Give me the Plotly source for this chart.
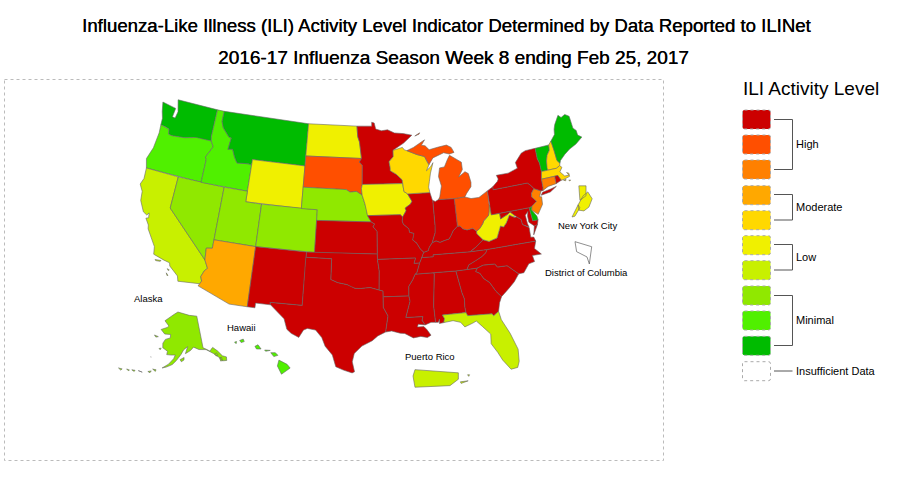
import numpy as np
import plotly.graph_objects as go

TITLE_1 = "Influenza-Like Illness (ILI) Activity Level Indicator Determined by Data Reported to ILINet"
TITLE_2 = "2016-17 Influenza Season Week 8 ending Feb 25, 2017"
LEGEND_TITLE = "ILI Activity Level"
LEVEL_COLORS = ["#CC0000", "#FF4F00", "#FF8000", "#FFA800", "#FFD800",
                "#F0F000", "#C8F000", "#90E800", "#50F000", "#00BB00", "#FFFFFF"]
LEGEND_GROUPS = ["High", "Moderate", "Low", "Minimal", "Insufficient Data"]

# activity level (index into LEVEL_COLORS) per jurisdiction
LEVELS = {
 "WA":9,"OR":8,"CA":6,"NV":7,"ID":8,"MT":9,"WY":5,"UT":7,"CO":7,"AZ":3,"NM":0,"ND":5,"SD":1,"NE":7,
 "KS":0,"OK":0,"TX":0,"MN":0,"IA":5,"MO":0,"AR":0,"LA":0,"WI":4,"IL":0,"MI":1,"IN":0,"OH":1,"KY":0,
 "TN":0,"MS":0,"AL":0,"GA":0,"FL":6,"SC":0,"NC":0,"VA":0,"WV":5,"MD":0,"DE":9,"PA":0,"NJ":2,"NY":0,
 "CT":2,"RI":0,"MA":4,"VT":9,"NH":4,"ME":9,"AK":7,"HI":8,"PR":6,"NYC":5,"DC":10,
}

# state outlines, (lon, lat)
OHIO_OH = [(-80.52,40.64),(-80.6,40.6),(-80.72,40.07),(-80.87,39.7),(-81.55,39.27),(-81.75,39.0),(-82.2,38.6),(-82.6,38.42),
           (-83.0,38.73),(-83.7,38.65),(-84.2,38.8),(-84.5,39.1),(-84.82,39.1)]
OHIO_IN = [(-84.82,39.1),(-85.4,38.73),(-85.75,38.27),(-86.0,38.0),(-86.5,37.93),(-87.1,37.78),(-87.57,37.95),(-88.06,37.8)]
OHIO_IL = [(-88.06,37.8),(-88.45,37.4),(-88.6,37.1),(-89.13,36.98)]

OUTLINES = {
"WA":[[(-124.7,48.38),(-123.2,48.15),(-122.75,48.15),(-122.85,47.3),(-122.45,47.25),(-122.3,47.9),(-122.5,48.4),(-122.75,49.0),(-117.03,49.0),(-117.04,46.42),(-116.92,45.99),(-118.98,46.0),(-119.3,45.93),(-120.5,45.7),(-121.2,45.65),(-122.2,45.57),(-122.7,45.62),(-122.85,46.1),(-123.4,46.2),(-124.05,46.27),(-124.1,46.9),(-124.4,47.5)]],
"OR":[[(-124.05,46.27),(-123.4,46.2),(-122.85,46.1),(-122.7,45.62),(-122.2,45.57),(-121.2,45.65),(-120.5,45.7),(-119.3,45.93),(-118.98,46.0),(-116.92,45.99),(-116.5,45.5),(-116.85,44.95),(-117.22,44.4),(-117.03,44.2),(-117.03,42.0),(-124.2,42.0),(-124.55,42.84),(-124.1,44.0),(-123.95,45.5)]],
"CA":[[(-124.2,42.0),(-120.0,42.0),(-120.0,39.0),(-114.63,35.0),(-114.15,34.27),(-114.45,34.0),(-114.72,33.4),(-114.52,33.0),(-114.72,32.72),(-117.12,32.53),(-117.3,33.0),(-118.4,33.75),(-118.5,34.03),(-119.2,34.15),(-120.5,34.45),(-120.65,35.15),(-121.9,36.6),(-122.0,36.95),(-122.5,37.5),(-122.2,37.6),(-122.3,38.05),(-122.5,37.8),(-123.0,38.0),(-123.7,38.95),(-123.85,39.8),(-124.35,40.4),(-124.1,41.0)],
      [(-120.2,34.0),(-119.5,34.05),(-119.6,33.95),(-120.1,33.92)],[(-118.6,33.45),(-118.35,33.38),(-118.45,33.3)],[(-118.6,33.05),(-118.35,32.85),(-118.45,32.82)]],
"NV":[[(-120,42),(-114.04,42),(-114.04,36.2),(-114.74,36.1),(-114.63,35.0),(-120,39)]],
"ID":[[(-117.03,49),(-116.05,49),(-116.05,48.0),(-115.7,47.45),(-114.7,46.7),(-114.35,46.65),(-114.5,45.55),(-113.9,45.65),(-113.45,44.95),(-113.0,44.45),(-111.5,44.55),(-111.05,44.48),(-111.05,42),(-117.03,42),(-117.03,44.2),(-117.22,44.4),(-116.85,44.95),(-116.5,45.5),(-116.92,45.99),(-117.04,46.42)]],
"MT":[[(-116.05,49),(-104.05,49),(-104.05,45),(-111.05,45),(-111.05,44.48),(-111.5,44.55),(-113.0,44.45),(-113.45,44.95),(-113.9,45.65),(-114.5,45.55),(-114.35,46.65),(-114.7,46.7),(-115.7,47.45),(-116.05,48.0)]],
"WY":[[(-111.05,45),(-104.05,45),(-104.05,41),(-111.05,41)]],
"UT":[[(-114.04,42),(-111.05,42),(-111.05,41),(-109.05,41),(-109.05,37),(-114.04,37)]],
"CO":[[(-109.05,41),(-102.05,41),(-102.05,37),(-109.05,37)]],
"AZ":[[(-114.04,37),(-109.05,37),(-109.05,31.33),(-111.07,31.33),(-114.81,32.5),(-114.72,32.72),(-114.52,33.0),(-114.72,33.4),(-114.45,34.0),(-114.15,34.27),(-114.63,35.0),(-114.74,36.1),(-114.04,36.2)]],
"NM":[[(-109.05,37),(-103,37),(-103.04,32),(-106.62,32),(-106.53,31.78),(-108.2,31.78),(-108.2,31.33),(-109.05,31.33)]],
"ND":[[(-104.05,49),(-97.23,49),(-97.1,48.0),(-96.85,47.5),(-96.56,45.94),(-104.05,45.94)]],
"SD":[[(-104.05,45.94),(-96.56,45.94),(-96.85,45.6),(-96.45,45.3),(-96.45,43.5),(-96.55,43.1),(-96.45,42.5),(-97.2,42.85),(-98.0,42.77),(-98.5,43.0),(-104.05,43)]],
"NE":[[(-104.05,43),(-98.5,43),(-98.0,42.77),(-97.2,42.85),(-96.45,42.5),(-96.1,41.7),(-95.9,41.2),(-95.77,40.59),(-95.31,40.0),(-102.05,40),(-102.05,41),(-104.05,41)]],
"KS":[[(-102.05,40),(-95.31,40),(-94.9,39.8),(-95.1,39.55),(-94.61,39.11),(-94.62,37),(-102.05,37)]],
"OK":[[(-103,37),(-94.62,37),(-94.62,36.5),(-94.43,35.4),(-94.48,33.64),(-95.5,33.88),(-96.5,33.8),(-97.2,33.8),(-97.7,33.95),(-98.1,34.13),(-99.2,34.3),(-100,34.56),(-100,36.5),(-103,36.5)]],
"TX":[[(-106.62,32),(-103.04,32),(-103.04,36.5),(-100,36.5),(-100,34.56),(-99.2,34.3),(-98.1,34.13),(-97.7,33.95),(-97.2,33.8),(-96.5,33.8),(-95.5,33.88),(-94.48,33.64),(-94.04,33.55),(-94.04,33.0),(-94.04,32),(-93.55,31.2),(-93.7,30.6),(-93.85,29.7),(-94.7,29.35),(-95.3,28.9),(-96.4,28.4),(-97.2,27.7),(-97.4,26.9),(-97.15,25.96),(-97.4,25.85),(-98.3,26.1),(-99.1,26.4),(-99.5,27.5),(-100.3,28.3),(-100.7,29.1),(-101.4,29.77),(-102.3,29.88),(-102.7,29.7),(-103.15,28.98),(-104.0,29.3),(-104.5,29.65),(-104.9,30.6),(-106.0,31.4),(-106.53,31.78)]],
"MN":[[(-97.23,49),(-95.15,49),(-95.15,49.38),(-94.8,49.3),(-94.6,48.72),(-93.8,48.55),(-92.95,48.62),(-92.0,48.3),(-90.8,48.2),(-89.6,48.0),(-90.8,47.3),(-92.02,46.71),(-92.29,46.66),(-92.29,46.07),(-92.88,45.6),(-92.75,45.0),(-92.75,44.75),(-92.0,44.4),(-91.25,43.85),(-91.22,43.5),(-96.45,43.5),(-96.45,45.3),(-96.85,45.6),(-96.56,45.94),(-96.85,47.5),(-97.1,48.0)]],
"IA":[[(-96.45,43.5),(-91.22,43.5),(-91.1,42.75),(-90.64,42.51),(-90.15,41.8),(-90.35,41.55),(-91.05,41.2),(-90.95,40.95),(-91.42,40.38),(-91.7,40.6),(-95.77,40.59),(-95.9,41.2),(-96.1,41.7),(-96.45,42.5),(-96.55,43.1)]],
"MO":[[(-95.77,40.59),(-91.7,40.6),(-91.42,40.38),(-91.5,40.0),(-91.37,39.7),(-90.73,39.25),(-90.67,38.92),(-90.15,38.8),(-90.18,38.6),(-90.35,38.2),(-89.9,37.88),(-89.5,37.3),(-89.13,36.98),(-89.4,36.5),(-89.7,36.0),(-90.37,36.0),(-90.15,36.5),(-94.62,36.5),(-94.62,37),(-94.61,39.11),(-95.1,39.55),(-94.9,39.8),(-95.31,40)]],
"AR":[[(-94.62,36.5),(-90.15,36.5),(-90.37,36.0),(-89.7,36.0),(-89.9,35.55),(-90.1,35.1),(-90.3,35.0),(-90.6,34.5),(-91.1,33.9),(-91.15,33.0),(-94.04,33.0),(-94.04,33.55),(-94.48,33.64),(-94.43,35.4)]],
"LA":[[(-94.04,33),(-91.15,33),(-91.05,32.5),(-91.6,31.0),(-89.73,31.0),(-89.85,30.65),(-89.55,30.2),(-90.3,30.3),(-90.4,30.05),(-89.7,30.05),(-89.4,29.75),(-89.0,29.2),(-89.4,29.0),(-90.1,29.15),(-90.9,29.05),(-91.8,29.5),(-92.3,29.55),(-93.2,29.78),(-93.85,29.7),(-93.7,30.6),(-93.55,31.2),(-94.04,32)]],
"MS":[[(-90.3,35),(-88.2,35),(-88.1,34.9),(-88.47,31.9),(-88.4,30.37),(-88.9,30.4),(-89.55,30.2),(-89.85,30.65),(-89.73,31.0),(-91.6,31.0),(-91.05,32.5),(-91.15,33.0),(-91.1,33.9),(-90.6,34.5)]],
"AL":[[(-88.2,35),(-85.6,34.98),(-85.18,32.87),(-85.0,32.3),(-85.05,31.54),(-85.0,31.0),(-87.6,31.0),(-87.4,30.65),(-87.52,30.28),(-88.0,30.23),(-87.95,30.65),(-88.1,30.35),(-88.4,30.37),(-88.47,31.9),(-88.1,34.9)]],
"GA":[[(-85.6,34.98),(-83.11,35.0),(-83.35,34.7),(-82.9,34.48),(-82.55,33.95),(-81.95,33.5),(-81.4,32.6),(-80.88,32.03),(-81.2,31.5),(-81.45,30.72),(-82.05,30.36),(-82.2,30.57),(-84.86,30.7),(-85.0,31.0),(-85.05,31.54),(-85.0,32.3),(-85.18,32.87)]],
"FL":[[(-87.6,31.0),(-85.0,31.0),(-84.86,30.7),(-82.2,30.57),(-82.05,30.36),(-81.45,30.72),(-81.3,29.9),(-80.6,28.5),(-80.05,26.9),(-80.15,25.75),(-80.4,25.2),(-81.1,25.13),(-81.8,26.1),(-82.2,26.9),(-82.75,27.8),(-82.65,28.7),(-83.4,29.5),(-84.0,30.1),(-84.4,29.95),(-85.3,29.68),(-85.7,30.15),(-86.5,30.38),(-87.52,30.28),(-87.4,30.65)]],
"SC":[[(-83.35,34.7),(-83.11,35.0),(-82.4,35.2),(-81.05,35.15),(-80.8,34.82),(-79.68,34.8),(-78.55,33.86),(-79.2,33.2),(-79.9,32.7),(-80.88,32.03),(-81.4,32.6),(-81.95,33.5),(-82.55,33.95),(-82.9,34.48)]],
"NC":[[(-84.32,34.99),(-83.11,35.0),(-82.4,35.2),(-81.05,35.15),(-80.8,34.82),(-79.68,34.8),(-78.55,33.86),(-77.95,33.87),(-77.2,34.6),(-76.5,34.7),(-76.6,35.3),(-75.55,35.25),(-76.2,35.9),(-75.87,36.55),(-81.68,36.59),(-81.9,36.3),(-82.4,36.0),(-83.2,35.7),(-84.05,35.4)]],
"TN":[[(-90.3,35),(-88.2,35),(-85.6,34.98),(-84.32,34.99),(-84.05,35.4),(-83.2,35.7),(-82.4,36.0),(-81.9,36.3),(-81.68,36.59),(-83.68,36.6),(-88.07,36.68),(-88.07,36.5),(-89.4,36.5),(-89.7,36),(-89.9,35.55),(-90.1,35.1)]],
"KY":[[(-89.4,36.5),(-88.07,36.5),(-88.07,36.68),(-83.68,36.6),(-82.95,36.95),(-81.97,37.54),(-82.6,38.17)]+OHIO_OH[7:]+OHIO_IN[1:]+OHIO_IL[1:]],
"VA":[[(-83.68,36.6),(-81.68,36.59),(-75.87,36.55),(-76.0,36.95),(-76.35,37.0),(-76.3,37.9),(-77.0,38.3),(-77.05,38.8),(-77.5,39.1),(-77.83,39.13),(-78.35,39.4),(-78.87,38.76),(-79.3,38.4),(-79.65,38.55),(-80.3,37.5),(-81.3,37.3),(-81.97,37.54),(-82.95,36.95)],
      [(-75.95,37.15),(-75.6,37.55),(-75.24,38.03),(-75.65,37.95)]],
"WV":[[(-82.6,38.42),(-82.6,38.17),(-81.97,37.54),(-81.3,37.3),(-80.3,37.5),(-79.65,38.55),(-79.3,38.4),(-78.87,38.76),(-78.35,39.4),(-77.83,39.13),(-77.75,39.32),(-78.2,39.68),(-78.5,39.52),(-79.48,39.2),(-79.48,39.72),(-80.52,39.72),(-80.52,40.64),(-80.6,40.6),(-80.72,40.07),(-80.87,39.7),(-81.55,39.27),(-81.75,39.0),(-82.2,38.6)]],
"MD":[[(-79.48,39.72),(-75.79,39.72),(-75.7,38.46),(-75.05,38.45),(-75.25,38.03),(-75.65,37.95),(-76.2,38.4),(-76.2,39.0),(-76.05,39.4),(-76.45,39.1),(-76.4,38.3),(-76.3,37.95),(-77.0,38.3),(-77.05,38.8),(-77.5,39.1),(-77.75,39.32),(-78.2,39.68),(-78.5,39.52),(-79.48,39.2)]],
"DE":[[(-75.79,39.72),(-75.42,39.8),(-75.55,39.45),(-75.1,38.8),(-75.05,38.45),(-75.7,38.46)]],
"PA":[[(-80.52,41.98),(-79.76,42.27),(-79.76,42.0),(-75.35,42.0),(-75.05,41.75),(-74.7,41.36),(-75.13,40.98),(-75.2,40.65),(-74.73,40.15),(-75.42,39.8),(-75.79,39.72),(-80.52,39.72)]],
"NJ":[[(-74.7,41.36),(-73.9,41.0),(-74.25,40.5),(-74.0,40.45),(-74.1,39.75),(-74.9,38.93),(-75.55,39.45),(-75.42,39.8),(-74.73,40.15),(-75.2,40.65),(-75.13,40.98)]],
"NY":[[(-79.76,42.27),(-79.05,42.7),(-78.9,42.9),(-79.05,43.27),(-77.5,43.27),(-76.5,43.5),(-76.2,43.55),(-76.3,44.1),(-75.3,44.85),(-74.7,45.0),(-73.35,45.0),(-73.4,44.0),(-73.25,43.55),(-73.27,42.75),(-73.5,42.05),(-73.55,41.3),(-73.65,41.0),(-73.9,41.0),(-74.7,41.36),(-75.05,41.75),(-75.35,42),(-79.76,42)],
      [(-74.0,40.6),(-73.75,40.85),(-72.6,40.97),(-71.9,41.07),(-72.8,40.7),(-73.9,40.55)]],
"VT":[[(-73.35,45),(-71.5,45),(-71.6,44.5),(-72.05,44.1),(-72.3,43.6),(-72.45,43.0),(-72.46,42.73),(-73.27,42.75),(-73.25,43.55),(-73.4,44)]],
"NH":[[(-71.5,45),(-71.08,45.3),(-71.0,44.3),(-70.98,43.4),(-70.7,43.07),(-70.82,42.87),(-71.3,42.7),(-72.46,42.73),(-72.45,43),(-72.3,43.6),(-72.05,44.1),(-71.6,44.5)]],
"ME":[[(-71.08,45.3),(-70.4,45.8),(-70.25,46.3),(-70.0,46.7),(-69.23,47.46),(-68.9,47.18),(-68.3,47.36),(-67.8,47.07),(-67.78,45.9),(-67.45,45.6),(-67.45,45.15),(-67.0,44.85),(-68.0,44.4),(-69.0,44.1),(-69.8,43.75),(-70.55,43.3),(-70.7,43.07),(-70.98,43.4),(-71.0,44.3)]],
"MA":[[(-73.5,42.05),(-73.27,42.75),(-72.46,42.73),(-71.3,42.7),(-70.82,42.87),(-70.6,42.65),(-71.0,42.3),(-70.6,41.95),(-70.55,41.8),(-70.0,41.78),(-70.2,42.07),(-69.95,41.95),(-69.97,41.65),(-70.65,41.53),(-71.12,41.5),(-71.38,42.02),(-71.8,42.02)],
      [(-70.83,41.45),(-70.5,41.47),(-70.6,41.35)],[(-70.2,41.32),(-69.97,41.3),(-70.1,41.23)]],
"RI":[[(-71.8,42.02),(-71.38,42.02),(-71.12,41.5),(-71.85,41.32)]],
"CT":[[(-73.5,42.05),(-71.8,42.02),(-71.85,41.32),(-72.9,41.25),(-73.65,41.0),(-73.55,41.3)]],
"OH":[[(-84.81,41.7),(-83.45,41.73),(-82.7,41.5),(-81.7,41.5),(-80.52,41.98)]+OHIO_OH],
"IN":[[(-87.53,41.72),(-87.2,41.62),(-86.8,41.76),(-84.81,41.7)]+OHIO_IN+[(-87.6,38.7),(-87.53,39.35)]],
"IL":[[(-90.64,42.51),(-87.8,42.49),(-87.6,41.85),(-87.53,41.72),(-87.53,39.35),(-87.6,38.7)]+OHIO_IL+[(-89.5,37.3),(-89.9,37.88),(-90.35,38.2),(-90.18,38.6),(-90.15,38.8),(-90.67,38.92),(-90.73,39.25),(-91.37,39.7),(-91.5,40),(-91.42,40.38),(-90.95,40.95),(-91.05,41.2),(-90.35,41.55),(-90.15,41.8)]],
"WI":[[(-92.02,46.71),(-91.0,46.9),(-90.75,46.65),(-90.42,46.57),(-89.1,46.14),(-88.1,45.9),(-87.8,45.35),(-87.6,45.1),(-88.0,44.55),(-87.4,44.9),(-87.05,45.25),(-87.5,44.3),(-87.75,43.5),(-87.9,43.0),(-87.8,42.49),(-90.64,42.51),(-91.1,42.75),(-91.22,43.5),(-91.25,43.85),(-92,44.4),(-92.75,44.75),(-92.75,45),(-92.88,45.6),(-92.29,46.07),(-92.29,46.66)]],
"MI":[[(-90.42,46.57),(-89.1,46.14),(-88.1,45.9),(-87.8,45.35),(-87.6,45.1),(-87.0,45.7),(-86.3,45.9),(-85.5,46.08),(-84.75,45.9),(-84.1,46.0),(-84.4,46.5),(-85.0,46.77),(-86.1,46.67),(-87.4,46.5),(-87.9,46.9),(-88.4,46.98),(-87.9,47.47),(-88.6,47.2),(-89.5,46.83)],
      [(-86.8,41.76),(-84.81,41.7),(-83.45,41.73),(-83.15,42.05),(-82.5,42.6),(-82.42,43.0),(-82.6,43.85),(-83.0,44.07),(-83.9,43.65),(-83.3,44.3),(-83.3,45.0),(-84.75,45.78),(-85.1,45.4),(-85.6,44.75),(-86.25,44.7),(-86.5,43.9),(-86.25,43.0),(-86.6,42.0)],
      [(-89.2,47.9),(-88.5,48.17),(-88.6,48.05)]],
"AK":[[(-141,69.65),(-141,60.3),(-139.5,59.75),(-137.5,58.9),(-136.5,59.4),(-135.5,59.75),(-133.5,58.4),(-131.8,56.6),(-130.0,55.9),(-130.5,54.9),(-132.5,55.2),(-133.8,56.5),(-136.0,58.0),(-137.0,58.5),(-139.5,59.6),(-143.5,60.0),(-146.5,60.9),(-148.5,60.0),(-151.5,59.2),(-150.0,61.2),(-152.5,60.3),(-154.0,59.0),(-156.5,57.2),(-158.5,56.0),(-161.5,55.1),(-163.5,54.7),(-160.5,56.0),(-158.0,57.7),(-157.2,58.8),(-159.5,58.7),(-162.0,58.7),(-161.8,59.7),(-164.8,60.5),(-165.2,61.8),(-164.0,63.0),(-161.0,63.6),(-161.0,64.6),(-165.0,64.5),(-168.0,65.6),(-164.0,66.5),(-163.0,67.0),(-166.5,68.3),(-163.0,69.7),(-160.0,70.5),(-156.7,71.3),(-152.0,70.8),(-147.0,70.2)],
      [(-154.5,57.5),(-152.3,58.1),(-152.4,57.4),(-153.8,56.9)],
      [(-166.9,60.1),(-165.7,60.3),(-166.1,59.8)],[(-171.5,63.6),(-168.8,63.4),(-170.3,63.1)],[(-170.4,57.2),(-170.1,57.2),(-170.2,57.1)],
      [(-168.0,53.9),(-166.3,53.9),(-166.5,53.4)],[(-170.0,52.9),(-168.5,53.3),(-168.9,52.7)],[(-174.5,52.4),(-172.5,52.3),(-172.8,52.1)],[(-177.5,52.0),(-176.0,52.2),(-176.2,51.8)],[(-179.9,51.7),(-178.5,51.7),(-178.9,51.4)],[(-183.5,51.0),(-181.8,51.2),(-182.2,50.7)],
      [(-134.5,58.0),(-133.8,57.3),(-134.8,57.0),(-135.5,57.7)],[(-133.5,56.3),(-132.5,56.3),(-132.5,55.3),(-133.5,55.3)]],
"HI":[[(-155.9,20.25),(-155.1,19.85),(-154.8,19.5),(-155.65,18.92),(-156.05,19.7)],[(-156.7,20.95),(-156.25,20.95),(-156.0,20.7),(-156.4,20.58)],[(-157.3,21.2),(-156.75,21.17),(-157.2,21.08)],[(-158.25,21.55),(-157.95,21.7),(-157.65,21.3),(-158.1,21.3)],[(-159.75,22.1),(-159.4,22.23),(-159.3,22.0),(-159.6,21.9)],[(-160.25,21.95),(-160.05,22.0),(-160.1,21.8)]],
"PR":[[(-67.2,18.5),(-65.65,18.4),(-65.65,18.2),(-65.95,18.0),(-67.2,17.95),(-67.27,18.3)],[(-65.58,18.12),(-65.3,18.15),(-65.55,18.07)],[(-65.32,18.34),(-65.25,18.34),(-65.28,18.29)]],
"NYC":[[(-74.26,40.5),(-74.09,40.66),(-74.04,40.62),(-74.18,40.51)],[(-74.09,40.66),(-73.95,40.78),(-73.82,40.83),(-73.70,40.74),(-73.79,40.63),(-73.93,40.58),(-74.07,40.59)],[(-74.07,40.91),(-73.87,40.91),(-73.87,40.78),(-74.04,40.72)]],
"DC":[[(-77.12,38.994),(-76.914,38.948),(-76.943,38.791),(-76.972,38.855),(-77.10,38.903)]],
}

LEGEND_TOPS = [110,135,160,185.7,210.7,235.7,260.7,286,311,336.3,361.7]


def albers(lon, lat, p1, p2, lon0, lat0):
    lon, lat = np.radians(lon), np.radians(lat)
    p1, p2, lon0, lat0 = map(np.radians, (p1, p2, lon0, lat0))
    n = (np.sin(p1) + np.sin(p2)) / 2
    c = np.cos(p1) ** 2 + 2 * n * np.sin(p1)
    rho = np.sqrt(c - 2 * n * np.sin(lat)) / n
    rho0 = np.sqrt(c - 2 * n * np.sin(lat0)) / n
    th = n * (lon - lon0)
    return rho * np.sin(th), rho0 - rho * np.cos(th)


def project(code, lon, lat):
    if code == "AK":
        x, y = albers(lon, lat, 55, 65, -154, 50)
        return 181 + 198 * x, 385.5 - 198 * y
    if code == "HI":
        return 283 + 10.2 * (lon + 155.5), 367 - 10.6 * (lat - 19.6)
    if code == "PR":
        return 413 + 28 * (lon + 67.27), 369 + 32 * (18.52 - lat)
    if code == "NYC":
        return 572 + 36 * (lon + 74.26), 217 - 76 * (lat - 40.5)
    if code == "DC":
        return 575 + 81 * (lon + 77.12), 241 + 110 * (39.0 - lat)
    x, y = albers(lon, lat, 29.5, 45.5, -96, 37.5)
    return 365.7 + 612.8 * x, 248.8 - 609 * y


fig = go.Figure()
for code, rings in OUTLINES.items():
    xs, ys = [], []
    for ring in rings:
        a = np.array(ring + ring[:1], dtype=float)
        px, py = project(code, a[:, 0], a[:, 1])
        xs += list(px) + [None]
        ys += list(py) + [None]
    is_empty = LEVELS[code] == 10
    fig.add_trace(go.Scatter(
        x=xs, y=ys, mode="lines", fill="toself",
        fillcolor=LEVEL_COLORS[LEVELS[code]],
        line=dict(color="#444444" if is_empty else "#666666", width=0.6),
        name=code, hoverinfo="name", showlegend=False))

shapes = [dict(type="rect", x0=4.5, x1=663.5, y0=79.5, y1=460.5,
               line=dict(color="#BBBBBB", width=1, dash="dot"), layer="below")]
for top, col in zip(LEGEND_TOPS, LEVEL_COLORS):
    l, r, t, b, k = 742.5, 770.5, top, top + 19, 2
    path = (f"M{l+k},{t} L{r-k},{t} Q{r},{t} {r},{t+k} L{r},{b-k} Q{r},{b} {r-k},{b} "
            f"L{l+k},{b} Q{l},{b} {l},{b-k} L{l},{t+k} Q{l},{t} {l+k},{t} Z")
    shapes.append(dict(type="path", path=path, fillcolor=col,
                       line=dict(color="#AAAAAA", width=1, dash="dot")))
for y0, y1 in [(119.5, 169.5), (194.5, 220), (244.5, 270), (295.5, 345.5)]:
    shapes.append(dict(type="path", path=f"M774,{y0} L792.5,{y0} L792.5,{y1} L774,{y1}",
                       line=dict(color="#555555", width=1)))
shapes.append(dict(type="line", x0=774, x1=792.5, y0=371, y1=371, line=dict(color="#555555", width=1)))

FONT = "Liberation Sans, Arial, sans-serif"


def label(x, y, text, size, anchor="left", shadow="none"):
    return dict(x=x, y=y, text=text, showarrow=False, xanchor=anchor, yanchor="middle",
                font=dict(family=FONT, size=size, color="#000000", shadow=shadow))


annotations = [label(446, 25, TITLE_1, 18.6, "center", "0.35px 0 0 #000"),
               label(453, 57, TITLE_2, 19, "center", "0.35px 0 0 #000"),
               label(741, 88, LEGEND_TITLE, 19)]
for y, name in zip([144, 207, 257, 320, 371], LEGEND_GROUPS):
    annotations.append(label(794, y, name, 11))
for x, y, name in [(132, 298, "Alaska"), (225, 327, "Hawaii"), (403, 356, "Puerto Rico"),
                   (556, 225, "New York City"), (543, 272, "District of Columbia")]:
    annotations.append(label(x, y, name, 9.5))

fig.update_layout(
    width=906, height=500, margin=dict(l=0, r=0, t=0, b=0),
    paper_bgcolor="white", plot_bgcolor="white", showlegend=False,
    xaxis=dict(range=[0, 906], visible=False, fixedrange=True),
    yaxis=dict(range=[500, 0], visible=False, fixedrange=True),
    shapes=shapes, annotations=annotations)
fig.write_html("out.html", config={"displayModeBar": False},
               post_script="document.body.style.margin='0';")
